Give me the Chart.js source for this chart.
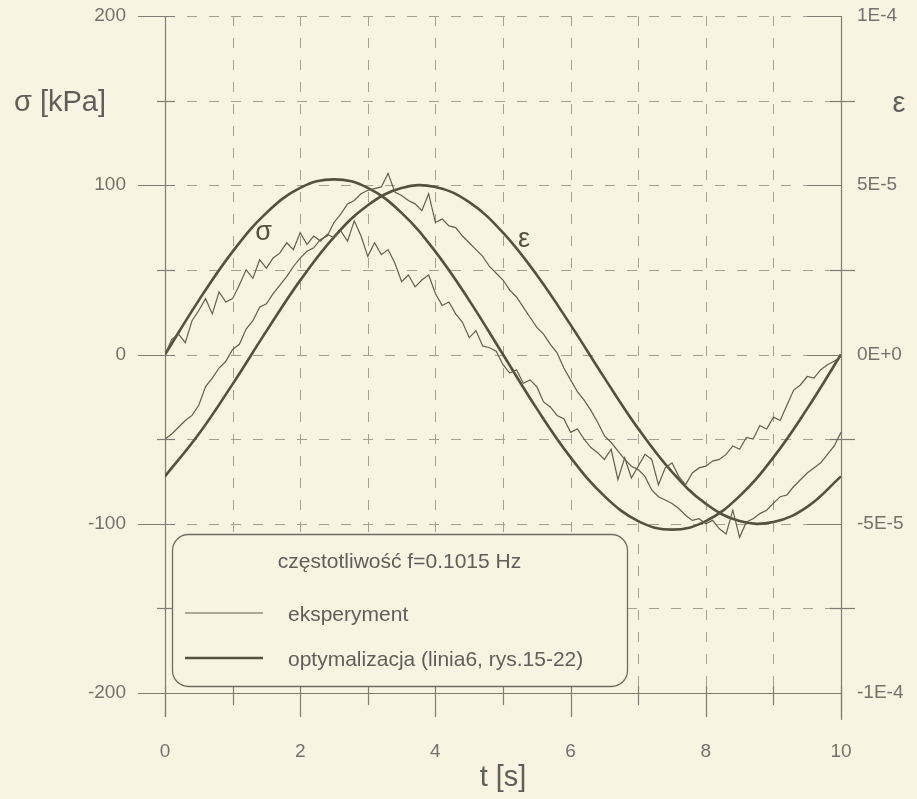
<!DOCTYPE html>
<html>
<head>
<meta charset="utf-8">
<script src="https://cdn.jsdelivr.net/npm/chart.js@4.4.1/dist/chart.umd.min.js"></script>
<style>
  html, body { margin: 0; padding: 0; background: #f7f4e1; }
  #wrap { width: 917px; height: 799px; }
</style>
</head>
<body>
<div id="wrap"><canvas id="sinChart" width="917" height="799"></canvas></div>
<script>
// time axis of the measured signals [s]
const tExp = [
  0, 0.1, 0.2, 0.3, 0.4, 0.5, 0.6, 0.7, 0.8, 0.9,
  1, 1.1, 1.2, 1.3, 1.4, 1.5, 1.6, 1.7, 1.8, 1.9,
  2, 2.1, 2.2, 2.3, 2.4, 2.5, 2.6, 2.7, 2.8, 2.9,
  3, 3.1, 3.2, 3.3, 3.4, 3.5, 3.6, 3.7, 3.8, 3.9,
  4, 4.1, 4.2, 4.3, 4.4, 4.5, 4.6, 4.7, 4.8, 4.9,
  5, 5.1, 5.2, 5.3, 5.4, 5.5, 5.6, 5.7, 5.8, 5.9,
  6, 6.1, 6.2, 6.3, 6.4, 6.5, 6.6, 6.7, 6.8, 6.9,
  7, 7.1, 7.2, 7.3, 7.4, 7.5, 7.6, 7.7, 7.8, 7.9,
  8, 8.1, 8.2, 8.3, 8.4, 8.5, 8.6, 8.7, 8.8, 8.9,
  9, 9.1, 9.2, 9.3, 9.4, 9.5, 9.6, 9.7, 9.8, 9.9,
  10
];
// measured stress [kPa]
const sigmaExp = [
  0, 9, 12, 7, 20, 26, 33, 24, 37, 31,
  33, 41, 50, 45, 56, 51, 57, 60, 66, 62,
  72, 65, 70, 67, 71, 69, 73, 67, 79, 70,
  58, 66, 59, 62, 54, 43, 47, 40, 44, 47,
  36, 29, 31, 24, 19, 10, 14, 5, 4, 2,
  -6, -11, -9, -17, -15, -19, -28, -31, -36, -38,
  -46, -44, -50, -55, -58, -62, -56, -74, -61, -73,
  -66, -59, -62, -77, -67, -64, -72, -77, -70, -67,
  -66, -63, -62, -59, -54, -56, -49, -50, -42, -44,
  -37, -39, -30, -21, -18, -13, -14, -9, -6, -4,
  -1
];
// measured strain [1E-5]
const epsExp = [
  -2.5, -2.35, -2.15, -1.95, -1.8, -1.5, -0.95, -0.7, -0.4, -0.2,
  0.15, 0.3, 0.75, 1.0, 1.4, 1.5, 1.8, 2.05, 2.3, 2.6,
  2.85, 3.05, 3.15, 3.4, 3.5, 3.9, 4.15, 4.45, 4.55, 4.75,
  4.85, 4.9, 4.95, 5.35, 4.8, 4.7, 4.55, 4.45, 4.25, 4.75,
  3.9, 4.0, 3.8, 3.75, 3.5, 3.3, 3.1, 2.9, 2.6, 2.4,
  2.2, 1.9, 1.7, 1.4, 1.1, 0.8, 0.6, 0.3, 0.05, -0.4,
  -0.75, -1.1, -1.35, -1.65, -2.0, -2.4, -2.6, -2.85, -3.1, -3.3,
  -3.4, -3.6, -4.0, -4.2, -4.3, -4.4, -4.55, -4.75, -4.9, -4.85,
  -5.0, -4.9, -5.15, -5.3, -4.6, -5.4, -4.95, -4.85, -4.7, -4.6,
  -4.4, -4.2, -4.15, -3.9, -3.7, -3.5, -3.35, -3.2, -2.95, -2.7,
  -2.3
];

// optimised model curves
const tModel = [0, 0.5, 1, 1.5, 2, 2.5, 3, 3.5, 4, 4.5, 5, 5.5, 6, 6.5, 7, 7.5, 8, 8.5, 9, 9.5, 10];
const sigmaModel = [0, 32.0, 60.8, 83.7, 98.4, 103.5, 98.4, 83.7, 60.8, 32.0, 0, -32.0, -60.8, -83.7, -98.4, -103.5, -98.4, -83.7, -60.8, -32.0, 0];
const epsModel = [-3.6, -2.35, -0.875, 0.69, 2.19, 3.47, 4.41, 4.92, 4.95, 4.5, 3.6, 2.35, 0.875, -0.69, -2.19, -3.47, -4.41, -4.92, -4.95, -4.5, -3.6];

const epsTickLabels = ["-1E-4", "-5E-5", "0E+0", "5E-5", "1E-4"];
const legendTitle = "częstotliwość f=0.1015 Hz";
const legendLabels = ["eksperyment", "optymalizacja (linia6, rys.15-22)"];

const BG = "#f7f4e1";
const INK = "#56513f";
const GRID = "#a3a196";
const AXIS = "#807e74";
const TXT = "#74736b";
const FONT = "'Liberation Sans', Arial, sans-serif";

const pts = (ts, ys, k) => ts.map((t, i) => ({ x: t, y: ys[i] * k }));

// grid, axis lines and tick marks
const framePlugin = {
  id: "frame",
  beforeDraw(chart) {
    const ctx = chart.ctx;
    ctx.save();
    ctx.fillStyle = BG;
    ctx.fillRect(0, 0, chart.width, chart.height);
    ctx.restore();
  },
  beforeDatasetsDraw(chart) {
    const ctx = chart.ctx;
    const xs = chart.scales.x, ys = chart.scales.y;
    const { left, right, top, bottom } = chart.chartArea;
    ctx.save();
    ctx.lineWidth = 1;
    ctx.strokeStyle = GRID;
    ctx.setLineDash([10, 12]);
    for (let v = ys.min + 50; v <= ys.max; v += 50) {
      const y = Math.round(ys.getPixelForValue(v)) + 0.5;
      ctx.beginPath(); ctx.moveTo(left, y); ctx.lineTo(right, y); ctx.stroke();
    }
    for (let t = xs.min + 1; t < xs.max; t += 1) {
      const x = Math.round(xs.getPixelForValue(t)) + 0.5;
      ctx.beginPath(); ctx.moveTo(x, top); ctx.lineTo(x, bottom); ctx.stroke();
    }
    ctx.setLineDash([]);
    ctx.strokeStyle = AXIS;
    ctx.lineWidth = 1.2;
    const line = (x1, y1, x2, y2) => { ctx.beginPath(); ctx.moveTo(x1, y1); ctx.lineTo(x2, y2); ctx.stroke(); };
    const L = Math.round(left) + 0.5, R = Math.round(right) + 0.5, B = Math.round(bottom) + 0.5;
    line(L, top, L, bottom + 24);
    line(R, top, R, bottom + 27);
    line(left - 27, B, right, B);
    for (let v = ys.min; v <= ys.max; v += 50) {
      const y = Math.round(ys.getPixelForValue(v)) + 0.5;
      if (v % 100 === 0) {
        line(left - 27, y, left + 10, y);
        line(right - 34, y, right, y);
      } else {
        line(left - 8, y, left + 10, y);
        line(right - 11, y, right + 14, y);
      }
    }
    for (let t = xs.min; t <= xs.max; t += 1) {
      const x = Math.round(xs.getPixelForValue(t)) + 0.5;
      line(x, bottom - 7, x, bottom + (t % 2 === 0 ? 24 : 12));
    }
    ctx.restore();
  },
  afterDatasetsDraw(chart) {
    const ctx = chart.ctx;
    const xs = chart.scales.x, ys = chart.scales.y;
    const { left, right, bottom } = chart.chartArea;
    ctx.save();
    // axis titles
    ctx.fillStyle = "#5f5e58";
    ctx.textBaseline = "middle";
    ctx.font = "29px " + FONT;
    ctx.textAlign = "center";
    ctx.fillText("σ [kPa]", 60, 103);
    ctx.fillText("ε", 899, 104);
    ctx.fillText("t [s]", (left + right) / 2, 778);
    // curve labels
    ctx.fillStyle = INK;
    ctx.font = "27px " + FONT;
    ctx.fillText("σ", xs.getPixelForValue(1.46), ys.getPixelForValue(72));
    ctx.fillText("ε", xs.getPixelForValue(5.31), ys.getPixelForValue(68));

    // legend box
    const bx = left + 7, by = bottom - 159, bw = 455, bh = 152;
    ctx.beginPath();
    ctx.roundRect(bx + 0.5, by + 0.5, bw, bh, 16);
    ctx.fillStyle = BG;
    ctx.fill();
    ctx.strokeStyle = "#6e6b60";
    ctx.lineWidth = 1.3;
    ctx.stroke();
    ctx.fillStyle = "#5f5e58";
    ctx.font = "21px " + FONT;
    ctx.textAlign = "center";
    ctx.fillText(legendTitle, bx + bw / 2, by + 28);
    ctx.textAlign = "left";
    const ds = chart.data.datasets;
    [ds[0], ds[2]].forEach((d, i) => {
      const y = by + 79 + i * 45;
      ctx.strokeStyle = d.borderColor;
      ctx.lineWidth = d.borderWidth;
      ctx.beginPath(); ctx.moveTo(bx + 13, y); ctx.lineTo(bx + 91, y); ctx.stroke();
      ctx.fillText(legendLabels[i], bx + 116, y + 2);
    });
    ctx.restore();
  }
};

const tickFont = { family: FONT, size: 19 };
// invisible tick marks only set the gap between axis and labels
const hiddenTicks = len => ({ display: true, drawOnChartArea: false, drawTicks: true, tickLength: len, color: "rgba(0,0,0,0)" });

const config = {
  type: "line",
  data: {
    datasets: [
      { label: "sigma exp", data: pts(tExp, sigmaExp, 1), yAxisID: "y",
        borderColor: "#645f4c", borderWidth: 1.2, pointRadius: 0, tension: 0 },
      { label: "eps exp", data: pts(tExp, epsExp, 1e-5), yAxisID: "y2",
        borderColor: "#645f4c", borderWidth: 1.2, pointRadius: 0, tension: 0 },
      { label: "sigma model", data: pts(tModel, sigmaModel, 1), yAxisID: "y",
        borderColor: INK, borderWidth: 2.6, pointRadius: 0, tension: 0.4 },
      { label: "eps model", data: pts(tModel, epsModel, 1e-5), yAxisID: "y2",
        borderColor: INK, borderWidth: 2.6, pointRadius: 0, tension: 0.4 }
    ]
  },
  options: {
    responsive: false,
    animation: false,
    layout: { padding: { top: 16, left: 0, right: 0, bottom: 0 } },
    plugins: { legend: { display: false }, tooltip: { enabled: false } },
    scales: {
      x: {
        type: "linear", min: 0, max: 10,
        grid: hiddenTicks(47), border: { display: false },
        ticks: { stepSize: 1, autoSkip: false, maxRotation: 0, padding: 0, color: TXT, font: tickFont,
          callback: v => (v % 2 === 0 ? String(v) : "") },
        afterFit: s => { s.height = 106; }
      },
      y: {
        position: "left", min: -200, max: 200,
        grid: hiddenTicks(39), border: { display: false },
        ticks: { stepSize: 100, padding: 0, color: TXT, font: tickFont },
        afterFit: s => { s.width = 165; }
      },
      y2: {
        position: "right", min: -1e-4, max: 1e-4,
        grid: hiddenTicks(16), border: { display: false },
        ticks: { stepSize: 5e-5, padding: 0, color: TXT, font: tickFont,
          callback: (v, i) => epsTickLabels[i] },
        afterFit: s => { s.width = 76; }
      }
    }
  },
  plugins: [framePlugin]
};

const sinChart = new Chart(document.getElementById("sinChart"), config);
</script>
</body>
</html>
